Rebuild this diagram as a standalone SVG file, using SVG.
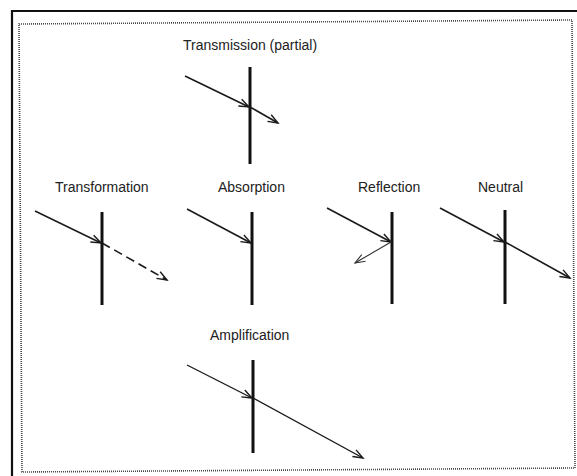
<svg xmlns="http://www.w3.org/2000/svg" width="577" height="476" viewBox="0 0 577 476">
<defs>
<style>
.lbl{font-family:"Liberation Sans",Arial,sans-serif;font-size:14px;fill:#222}
.bar{stroke:#111;stroke-width:3;stroke-linecap:butt}
.ray{stroke:#1a1a1a;stroke-width:1.6;fill:none}
.thin{stroke:#333;stroke-width:1.1;fill:none}
.amp{stroke:#1a1a1a;stroke-width:1.4;fill:none}
.dash{stroke-dasharray:9 5}
</style>
<marker id="ah" markerUnits="userSpaceOnUse" markerWidth="14" markerHeight="12" viewBox="-12 -6 14 12" refX="0" refY="0" orient="auto">
<path d="M-10,-3.8 L0,0 L-10,3.8" fill="none" stroke="#1a1a1a" stroke-width="1.4"/>
</marker>
<marker id="ahThin" markerUnits="userSpaceOnUse" markerWidth="14" markerHeight="12" viewBox="-12 -6 14 12" refX="0" refY="0" orient="auto">
<path d="M-10,-3.8 L0,0 L-10,3.8" fill="none" stroke="#333" stroke-width="1.1"/>
</marker>
</defs>
<rect x="0" y="0" width="577" height="476" fill="#fff"/>
<g id="frame">
<path d="M12,476 V11 H577" fill="none" stroke="#111" stroke-width="2.2"/>
<polygon points="19,24 572,20 575,468 22,472" fill="none" stroke="#444" stroke-width="1.6" stroke-dasharray="1 1"/>
</g>
<g id="transmission">
<text class="lbl" x="183" y="50">Transmission (partial)</text>
<line class="bar" x1="250" y1="67" x2="250" y2="164"/>
</g>
<g id="transformation">
<text class="lbl" x="55" y="192">Transformation</text>
<line class="bar" x1="102" y1="212" x2="102" y2="305"/>
</g>
<g id="absorption">
<text class="lbl" x="218" y="192">Absorption</text>
<line class="bar" x1="252" y1="212" x2="252" y2="305"/>
</g>
<g id="reflection">
<text class="lbl" x="358" y="192">Reflection</text>
<line class="bar" x1="392" y1="212" x2="392" y2="304"/>
</g>
<g id="neutral">
<text class="lbl" x="478" y="192">Neutral</text>
<line class="bar" x1="505" y1="210" x2="505" y2="304"/>
</g>
<g id="amplification">
<text class="lbl" x="210" y="340">Amplification</text>
<line class="bar" x1="253" y1="360" x2="253" y2="453"/>
</g>
<g id="connectors">
<line class="ray" x1="185" y1="76" x2="249" y2="107" marker-end="url(#ah)"/>
<line class="ray" x1="250" y1="107" x2="278" y2="123" marker-end="url(#ah)"/>
<line class="ray" x1="35" y1="211" x2="101" y2="243" marker-end="url(#ah)"/>
<line class="ray dash" x1="102" y1="243" x2="167" y2="280" marker-end="url(#ah)"/>
<line class="ray" x1="187" y1="209" x2="251" y2="243" marker-end="url(#ah)"/>
<line class="ray" x1="327" y1="208" x2="391" y2="242" marker-end="url(#ah)"/>
<line class="thin" x1="391" y1="242" x2="355" y2="263" marker-end="url(#ahThin)"/>
<line class="ray" x1="440" y1="208" x2="504" y2="242" marker-end="url(#ah)"/>
<line class="ray" x1="505" y1="242" x2="570" y2="278" marker-end="url(#ah)"/>
<line class="amp" x1="187" y1="365" x2="252" y2="398" marker-end="url(#ah)"/>
<line class="amp" x1="253" y1="398" x2="363" y2="458" marker-end="url(#ah)"/>
</g>
</svg>
